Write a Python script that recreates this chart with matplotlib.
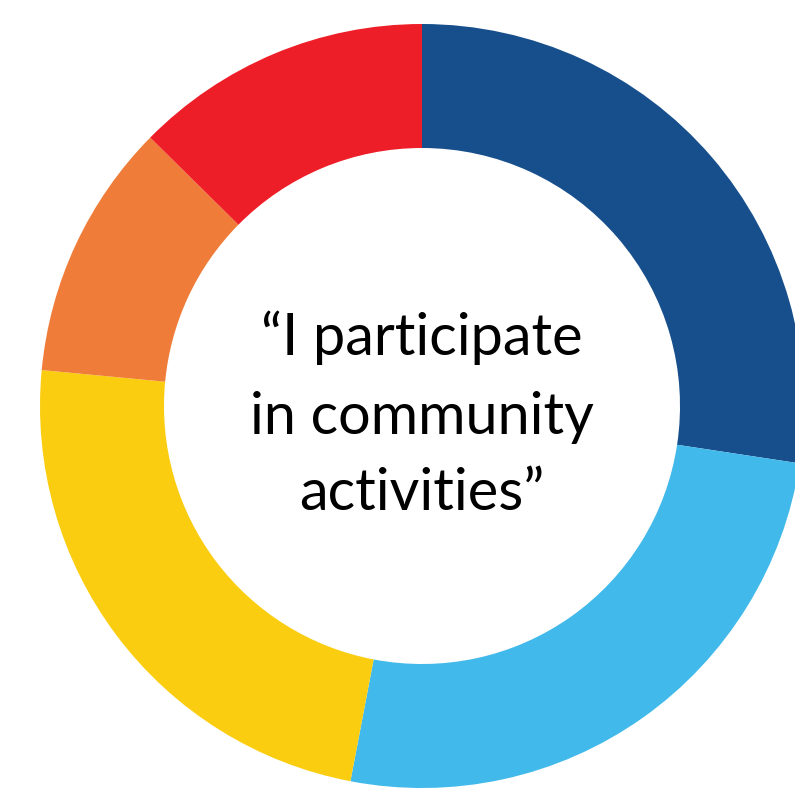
import matplotlib
matplotlib.use("Agg")
import matplotlib.pyplot as plt

# Share of responses per segment (clockwise from 12 o'clock)
shares = [27.4, 25.6, 23.5, 10.9, 12.6]
seg_colors = ["#174F8C", "#41B9EA", "#FACD10", "#F07C3A", "#ED1E27"]
label_lines = ["\u201cI participate", "in community", "activities\u201d"]

_W, _H, _DPI = 7.95, 7.88, 100
_CX, _CY = 422, 406          # ring centre in pixels (from top-left)
_R_OUT, _R_IN = 382, 258

fig = plt.figure(figsize=(_W, _H), dpi=_DPI)
ax = fig.add_axes([0, 0, 1, 1])
ax.pie(shares, colors=seg_colors, startangle=90, counterclock=False,
       radius=_R_OUT, wedgeprops={"width": _R_OUT - _R_IN, "linewidth": 0})
ax.set_xlim(-_CX, _W * _DPI - _CX)
ax.set_ylim(-(_H * _DPI - _CY), _CY)
ax.axis("off")

# text baselines in pixels from top
baselines = [355, 434, 510]
for line, base in zip(label_lines, baselines):
    ax.text(0, _CY - base, line, ha="center", va="baseline",
            fontsize=41.5, family=["Lato", "DejaVu Sans"], color="black")

fig.savefig("out.png", dpi=_DPI, facecolor="white")
